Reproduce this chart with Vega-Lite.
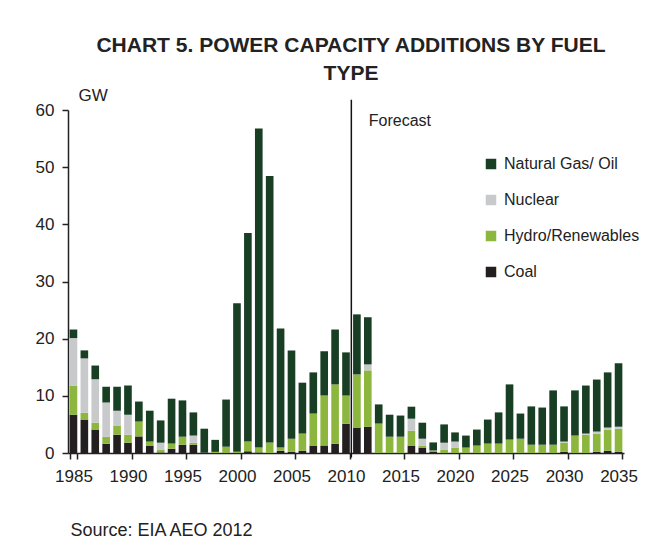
{
  "$schema": "https://vega.github.io/schema/vega-lite/v6.json",
  "width": 556,
  "height": 343,
  "autosize": {"type": "none"},
  "padding": {"left": 68, "top": 110, "right": 43, "bottom": 104},
  "background": "white",
  "title": {
    "text": ["CHART 5. POWER CAPACITY ADDITIONS BY FUEL", "TYPE"],
    "font": "Liberation Sans",
    "fontSize": 21,
    "fontWeight": "bold",
    "color": "#222222",
    "anchor": "middle",
    "lineHeight": 28,
    "dx": 5,
    "offset": 2
  },
  "data": {
    "values": [
      {"year": 1985, "Coal": 6.7, "Hydro/Renewables": 5.1, "Nuclear": 8.3, "Natural Gas/ Oil": 1.5},
      {"year": 1986, "Coal": 5.85, "Hydro/Renewables": 1.2, "Nuclear": 9.5, "Natural Gas/ Oil": 1.4},
      {"year": 1987, "Coal": 4.1, "Hydro/Renewables": 1.2, "Nuclear": 7.6, "Natural Gas/ Oil": 2.4},
      {"year": 1988, "Coal": 1.6, "Hydro/Renewables": 1.25, "Nuclear": 6.0, "Natural Gas/ Oil": 2.75},
      {"year": 1989, "Coal": 3.2, "Hydro/Renewables": 1.6, "Nuclear": 2.6, "Natural Gas/ Oil": 4.2},
      {"year": 1990, "Coal": 1.8, "Hydro/Renewables": 1.4, "Nuclear": 3.5, "Natural Gas/ Oil": 5.1},
      {"year": 1991, "Coal": 2.9, "Hydro/Renewables": 2.6, "Nuclear": 0, "Natural Gas/ Oil": 3.5},
      {"year": 1992, "Coal": 1.3, "Hydro/Renewables": 0.7, "Nuclear": 0, "Natural Gas/ Oil": 5.4},
      {"year": 1993, "Coal": 0.1, "Hydro/Renewables": 0.5, "Nuclear": 1.2, "Natural Gas/ Oil": 3.9},
      {"year": 1994, "Coal": 0.75, "Hydro/Renewables": 0.9, "Nuclear": 0, "Natural Gas/ Oil": 7.85},
      {"year": 1995, "Coal": 1.45, "Hydro/Renewables": 1.4, "Nuclear": 0, "Natural Gas/ Oil": 6.35},
      {"year": 1996, "Coal": 1.45, "Hydro/Renewables": 0.35, "Nuclear": 1.25, "Natural Gas/ Oil": 4.05},
      {"year": 1997, "Coal": 0.1, "Hydro/Renewables": 0, "Nuclear": 0, "Natural Gas/ Oil": 4.15},
      {"year": 1998, "Coal": 0, "Hydro/Renewables": 0.2, "Nuclear": 0, "Natural Gas/ Oil": 2.1},
      {"year": 1999, "Coal": 0, "Hydro/Renewables": 1.1, "Nuclear": 0, "Natural Gas/ Oil": 8.25},
      {"year": 2000, "Coal": 0, "Hydro/Renewables": 0.2, "Nuclear": 0, "Natural Gas/ Oil": 26.0},
      {"year": 2001, "Coal": 0.3, "Hydro/Renewables": 1.7, "Nuclear": 0, "Natural Gas/ Oil": 36.5},
      {"year": 2002, "Coal": 0.1, "Hydro/Renewables": 0.85, "Nuclear": 0, "Natural Gas/ Oil": 55.8},
      {"year": 2003, "Coal": 0, "Hydro/Renewables": 1.85, "Nuclear": 0, "Natural Gas/ Oil": 46.6},
      {"year": 2004, "Coal": 0.4, "Hydro/Renewables": 0.55, "Nuclear": 0, "Natural Gas/ Oil": 20.85},
      {"year": 2005, "Coal": 0.2, "Hydro/Renewables": 2.3, "Nuclear": 0, "Natural Gas/ Oil": 15.45},
      {"year": 2006, "Coal": 0.4, "Hydro/Renewables": 3.0, "Nuclear": 0, "Natural Gas/ Oil": 8.9},
      {"year": 2007, "Coal": 1.3, "Hydro/Renewables": 5.6, "Nuclear": 0, "Natural Gas/ Oil": 7.2},
      {"year": 2008, "Coal": 1.3, "Hydro/Renewables": 8.75, "Nuclear": 0, "Natural Gas/ Oil": 7.75},
      {"year": 2009, "Coal": 1.6, "Hydro/Renewables": 10.4, "Nuclear": 0, "Natural Gas/ Oil": 9.6},
      {"year": 2010, "Coal": 5.1, "Hydro/Renewables": 4.95, "Nuclear": 0, "Natural Gas/ Oil": 7.55},
      {"year": 2011, "Coal": 4.45, "Hydro/Renewables": 9.3, "Nuclear": 0, "Natural Gas/ Oil": 10.5},
      {"year": 2012, "Coal": 4.6, "Hydro/Renewables": 9.85, "Nuclear": 1.05, "Natural Gas/ Oil": 8.25},
      {"year": 2013, "Coal": 0, "Hydro/Renewables": 5.15, "Nuclear": 0, "Natural Gas/ Oil": 3.35},
      {"year": 2014, "Coal": 0, "Hydro/Renewables": 2.85, "Nuclear": 0, "Natural Gas/ Oil": 3.85},
      {"year": 2015, "Coal": 0, "Hydro/Renewables": 2.85, "Nuclear": 0, "Natural Gas/ Oil": 3.7},
      {"year": 2016, "Coal": 1.3, "Hydro/Renewables": 2.6, "Nuclear": 2.1, "Natural Gas/ Oil": 2.1},
      {"year": 2017, "Coal": 0.95, "Hydro/Renewables": 0.35, "Nuclear": 1.2, "Natural Gas/ Oil": 2.8},
      {"year": 2018, "Coal": 0.25, "Hydro/Renewables": 0.2, "Nuclear": 0, "Natural Gas/ Oil": 1.4},
      {"year": 2019, "Coal": 0, "Hydro/Renewables": 0.6, "Nuclear": 1.2, "Natural Gas/ Oil": 3.2},
      {"year": 2020, "Coal": 0, "Hydro/Renewables": 0.95, "Nuclear": 1.05, "Natural Gas/ Oil": 1.6},
      {"year": 2021, "Coal": 0, "Hydro/Renewables": 0.95, "Nuclear": 0, "Natural Gas/ Oil": 2.1},
      {"year": 2022, "Coal": 0, "Hydro/Renewables": 1.3, "Nuclear": 0, "Natural Gas/ Oil": 2.8},
      {"year": 2023, "Coal": 0, "Hydro/Renewables": 1.65, "Nuclear": 0, "Natural Gas/ Oil": 4.2},
      {"year": 2024, "Coal": 0, "Hydro/Renewables": 1.65, "Nuclear": 0, "Natural Gas/ Oil": 5.45},
      {"year": 2025, "Coal": 0, "Hydro/Renewables": 2.35, "Nuclear": 0, "Natural Gas/ Oil": 9.65},
      {"year": 2026, "Coal": 0, "Hydro/Renewables": 2.5, "Nuclear": 0, "Natural Gas/ Oil": 4.4},
      {"year": 2027, "Coal": 0, "Hydro/Renewables": 1.45, "Nuclear": 0, "Natural Gas/ Oil": 6.7},
      {"year": 2028, "Coal": 0, "Hydro/Renewables": 1.45, "Nuclear": 0, "Natural Gas/ Oil": 6.5},
      {"year": 2029, "Coal": 0, "Hydro/Renewables": 1.45, "Nuclear": 0, "Natural Gas/ Oil": 9.5},
      {"year": 2030, "Coal": 0.2, "Hydro/Renewables": 1.6, "Nuclear": 0.2, "Natural Gas/ Oil": 6.15},
      {"year": 2031, "Coal": 0, "Hydro/Renewables": 3.05, "Nuclear": 0, "Natural Gas/ Oil": 7.9},
      {"year": 2032, "Coal": 0, "Hydro/Renewables": 3.2, "Nuclear": 0.2, "Natural Gas/ Oil": 8.4},
      {"year": 2033, "Coal": 0.2, "Hydro/Renewables": 3.2, "Nuclear": 0.35, "Natural Gas/ Oil": 9.1},
      {"year": 2034, "Coal": 0.4, "Hydro/Renewables": 3.7, "Nuclear": 0.35, "Natural Gas/ Oil": 9.65},
      {"year": 2035, "Coal": 0.2, "Hydro/Renewables": 4.05, "Nuclear": 0.35, "Natural Gas/ Oil": 11.1}
    ]
  },
  "layer": [
    {
      "transform": [
        {"fold": ["Coal", "Hydro/Renewables", "Nuclear", "Natural Gas/ Oil"], "as": ["fuel", "gw"]},
        {"calculate": "indexof(['Coal','Hydro/Renewables','Nuclear','Natural Gas/ Oil'], datum.fuel)", "as": "stackOrder"}
      ],
      "mark": {"type": "bar"},
      "encoding": {
        "x": {
          "field": "year",
          "type": "ordinal",
          "scale": {"paddingInner": 0.3, "paddingOuter": 0.15},
          "axis": {
            "values": [1985, 1990, 1995, 2000, 2005, 2010, 2015, 2020, 2025, 2030, 2035],
            "labelAngle": 0,
            "tickBand": "extent",
            "title": "Source: EIA AEO 2012",
            "titleAnchor": "start",
            "titleAlign": "left",
            "titleBaseline": "middle",
            "titleX": 2,
            "titleY": 77,
            "titleFontSize": 18,
            "titleFontWeight": "normal"
          }
        },
        "y": {
          "field": "gw",
          "type": "quantitative",
          "stack": "zero",
          "scale": {"domain": [0, 60], "nice": false},
          "axis": {
            "values": [0, 10, 20, 30, 40, 50, 60],
            "title": "GW",
            "titleAngle": 0,
            "titleAlign": "left",
            "titleBaseline": "middle",
            "titleX": 10,
            "titleY": -15,
            "titleFontSize": 17,
            "titleFontWeight": "normal"
          }
        },
        "color": {
          "field": "fuel",
          "type": "nominal",
          "sort": ["Natural Gas/ Oil", "Nuclear", "Hydro/Renewables", "Coal"],
          "scale": {
            "domain": ["Natural Gas/ Oil", "Nuclear", "Hydro/Renewables", "Coal"],
            "range": ["#183f24", "#c8c9cb", "#8db63f", "#231f20"]
          },
          "legend": {
            "title": null,
            "orient": "none",
            "legendX": 415,
            "legendY": 46,
            "symbolType": "square",
            "symbolSize": 110,
            "symbolStrokeWidth": 0,
            "labelFontSize": 16,
            "labelOffset": 5,
            "rowPadding": 20,
            "padding": 0
          }
        },
        "order": {"field": "stackOrder", "type": "quantitative"}
      }
    },
    {
      "data": {"values": [{}]},
      "mark": {"type": "rule", "color": "#111111", "strokeWidth": 1.5},
      "encoding": {
        "x": {"datum": 2010, "type": "ordinal", "bandPosition": 1.2},
        "y": {"datum": 61.8, "type": "quantitative"},
        "y2": {"datum": -0.8}
      }
    },
    {
      "data": {"values": [{}]},
      "mark": {"type": "text", "align": "left", "baseline": "middle", "fontSize": 16, "dx": 1, "color": "#222222"},
      "encoding": {
        "x": {"datum": 2012, "type": "ordinal"},
        "y": {"datum": 58, "type": "quantitative"},
        "text": {"value": "Forecast"}
      }
    }
  ],
  "config": {
    "font": "Liberation Sans",
    "view": {"stroke": null},
    "axis": {
      "grid": false,
      "domainColor": "#222222",
      "domainWidth": 1.5,
      "tickColor": "#222222",
      "tickWidth": 1.5,
      "tickSize": 6,
      "labelFont": "Liberation Sans",
      "labelFontSize": 17,
      "labelColor": "#222222",
      "titleColor": "#222222",
      "titleFont": "Liberation Sans"
    },
    "axisX": {"labelPadding": 9},
    "axisY": {"labelPadding": 8},
    "legend": {"labelFont": "Liberation Sans", "labelColor": "#222222"}
  }
}
